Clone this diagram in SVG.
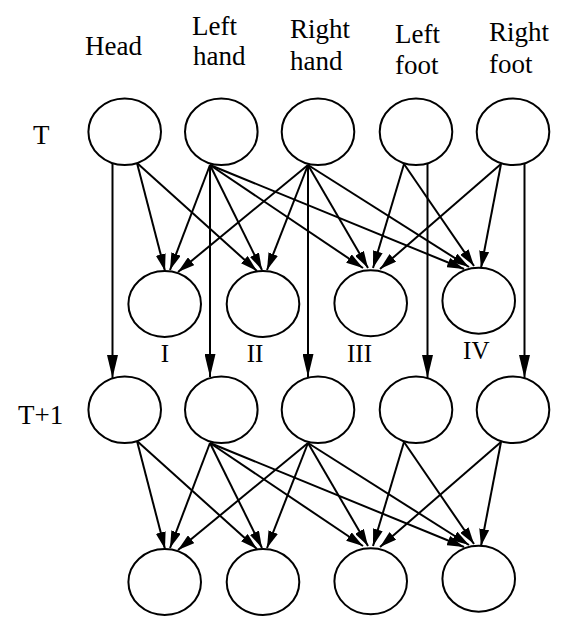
<svg xmlns="http://www.w3.org/2000/svg" width="571" height="627" viewBox="0 0 571 627">
<style>
.n{fill:#fff;stroke:#000;stroke-width:2}
.e line{stroke:#000;stroke-width:2}
.d{marker-end:url(#ah)}
.v{marker-end:url(#av)}
.t{font-family:"Liberation Serif","Times New Roman",serif;font-size:27px;fill:#000}
.r{font-family:"Liberation Serif","Times New Roman",serif;font-size:25px;fill:#000;text-anchor:middle}
</style>
<defs>
<marker id="ah" markerUnits="userSpaceOnUse" markerWidth="17" markerHeight="10" refX="17" refY="5" orient="auto"><path d="M0,0 L17,5 L0,10 z" fill="#000"/></marker>
<marker id="av" markerUnits="userSpaceOnUse" markerWidth="23" markerHeight="11" refX="23" refY="5.5" orient="auto"><path d="M0,0 L23,5.5 L0,11 z" fill="#000"/></marker>
</defs>
<rect width="571" height="627" fill="#fff"/>
<g id="labels">
<text class="t" x="85" y="55">Head</text>
<text class="t" x="192" y="35">Left</text>
<text class="t" x="193" y="65">hand</text>
<text class="t" x="290" y="38">Right</text>
<text class="t" x="290" y="70">hand</text>
<text class="t" x="395" y="43">Left</text>
<text class="t" x="395" y="74">foot</text>
<text class="t" x="489" y="41">Right</text>
<text class="t" x="489" y="73">foot</text>
<text class="t" x="33" y="144">T</text>
<text class="t" x="18" y="424">T+1</text>
</g>
<g id="connectors" class="e">
<!-- stage 1 -->
<line class="v" x1="112.5" y1="163" x2="112.5" y2="378"/>
<line class="v" x1="210" y1="165" x2="210" y2="377"/>
<line class="v" x1="308" y1="165" x2="308" y2="377"/>
<line class="v" x1="427.5" y1="163" x2="427.5" y2="378"/>
<line class="v" x1="524.5" y1="163" x2="524.5" y2="378"/>
<line class="d" x1="137" y1="163" x2="165" y2="271"/>
<line class="d" x1="137" y1="163" x2="257" y2="271"/>
<line class="d" x1="210" y1="165" x2="170" y2="270"/>
<line class="d" x1="210" y1="165" x2="262" y2="270"/>
<line class="d" x1="210" y1="165" x2="363" y2="268"/>
<line class="d" x1="210" y1="165" x2="464" y2="269"/>
<line class="d" x1="308" y1="165" x2="178" y2="272"/>
<line class="d" x1="308" y1="165" x2="267" y2="270"/>
<line class="d" x1="308" y1="165" x2="368" y2="268"/>
<line class="d" x1="308" y1="165" x2="469" y2="267"/>
<line class="d" x1="404" y1="164" x2="373" y2="268"/>
<line class="d" x1="404" y1="164" x2="474" y2="266"/>
<line class="d" x1="501" y1="164" x2="380" y2="269"/>
<line class="d" x1="501" y1="164" x2="481" y2="268"/>
<!-- stage 2 -->
<line class="d" x1="137" y1="441" x2="165" y2="549"/>
<line class="d" x1="137" y1="441" x2="257" y2="549"/>
<line class="d" x1="210" y1="443" x2="170" y2="548"/>
<line class="d" x1="210" y1="443" x2="262" y2="548"/>
<line class="d" x1="210" y1="443" x2="363" y2="546"/>
<line class="d" x1="210" y1="443" x2="464" y2="547"/>
<line class="d" x1="308" y1="443" x2="178" y2="550"/>
<line class="d" x1="308" y1="443" x2="267" y2="548"/>
<line class="d" x1="308" y1="443" x2="368" y2="546"/>
<line class="d" x1="308" y1="443" x2="469" y2="545"/>
<line class="d" x1="404" y1="442" x2="373" y2="546"/>
<line class="d" x1="404" y1="442" x2="474" y2="544"/>
<line class="d" x1="501" y1="442" x2="380" y2="547"/>
<line class="d" x1="501" y1="442" x2="481" y2="546"/>
</g>
<g id="T-head"><ellipse class="n" cx="124.7" cy="131.7" rx="36.3" ry="33.3"/></g>
<g id="T-lefthand"><ellipse class="n" cx="221.3" cy="131.7" rx="36.3" ry="33.3"/></g>
<g id="T-righthand"><ellipse class="n" cx="318" cy="131.7" rx="36.3" ry="33.3"/></g>
<g id="T-leftfoot"><ellipse class="n" cx="416" cy="131.7" rx="36.3" ry="33.3"/></g>
<g id="T-rightfoot"><ellipse class="n" cx="513" cy="131.7" rx="36.3" ry="33.3"/></g>
<g id="T-I"><ellipse class="n" cx="164.7" cy="304" rx="36.3" ry="33"/><text class="r" x="165" y="362">I</text></g>
<g id="T-II"><ellipse class="n" cx="263" cy="304" rx="36.3" ry="33"/><text class="r" x="255" y="362">II</text></g>
<g id="T-III"><ellipse class="n" cx="370.7" cy="303.3" rx="36.3" ry="33"/><text class="r" x="359.5" y="362">III</text></g>
<g id="T-IV"><ellipse class="n" cx="478.7" cy="300.7" rx="36.3" ry="33"/><text class="r" x="476.3" y="358.5">IV</text></g>
<g id="T1-head"><ellipse class="n" cx="124.7" cy="409.7" rx="36.3" ry="33.3"/></g>
<g id="T1-lefthand"><ellipse class="n" cx="221.3" cy="409.7" rx="36.3" ry="33.3"/></g>
<g id="T1-righthand"><ellipse class="n" cx="318" cy="409.7" rx="36.3" ry="33.3"/></g>
<g id="T1-leftfoot"><ellipse class="n" cx="416" cy="409.7" rx="36.3" ry="33.3"/></g>
<g id="T1-rightfoot"><ellipse class="n" cx="513" cy="409.7" rx="36.3" ry="33.3"/></g>
<g id="T1-I"><ellipse class="n" cx="164.7" cy="582" rx="36.3" ry="33"/></g>
<g id="T1-II"><ellipse class="n" cx="263" cy="582" rx="36.3" ry="33"/></g>
<g id="T1-III"><ellipse class="n" cx="370.7" cy="581.3" rx="36.3" ry="33"/></g>
<g id="T1-IV"><ellipse class="n" cx="478.7" cy="578.7" rx="36.3" ry="33"/></g>
</svg>
